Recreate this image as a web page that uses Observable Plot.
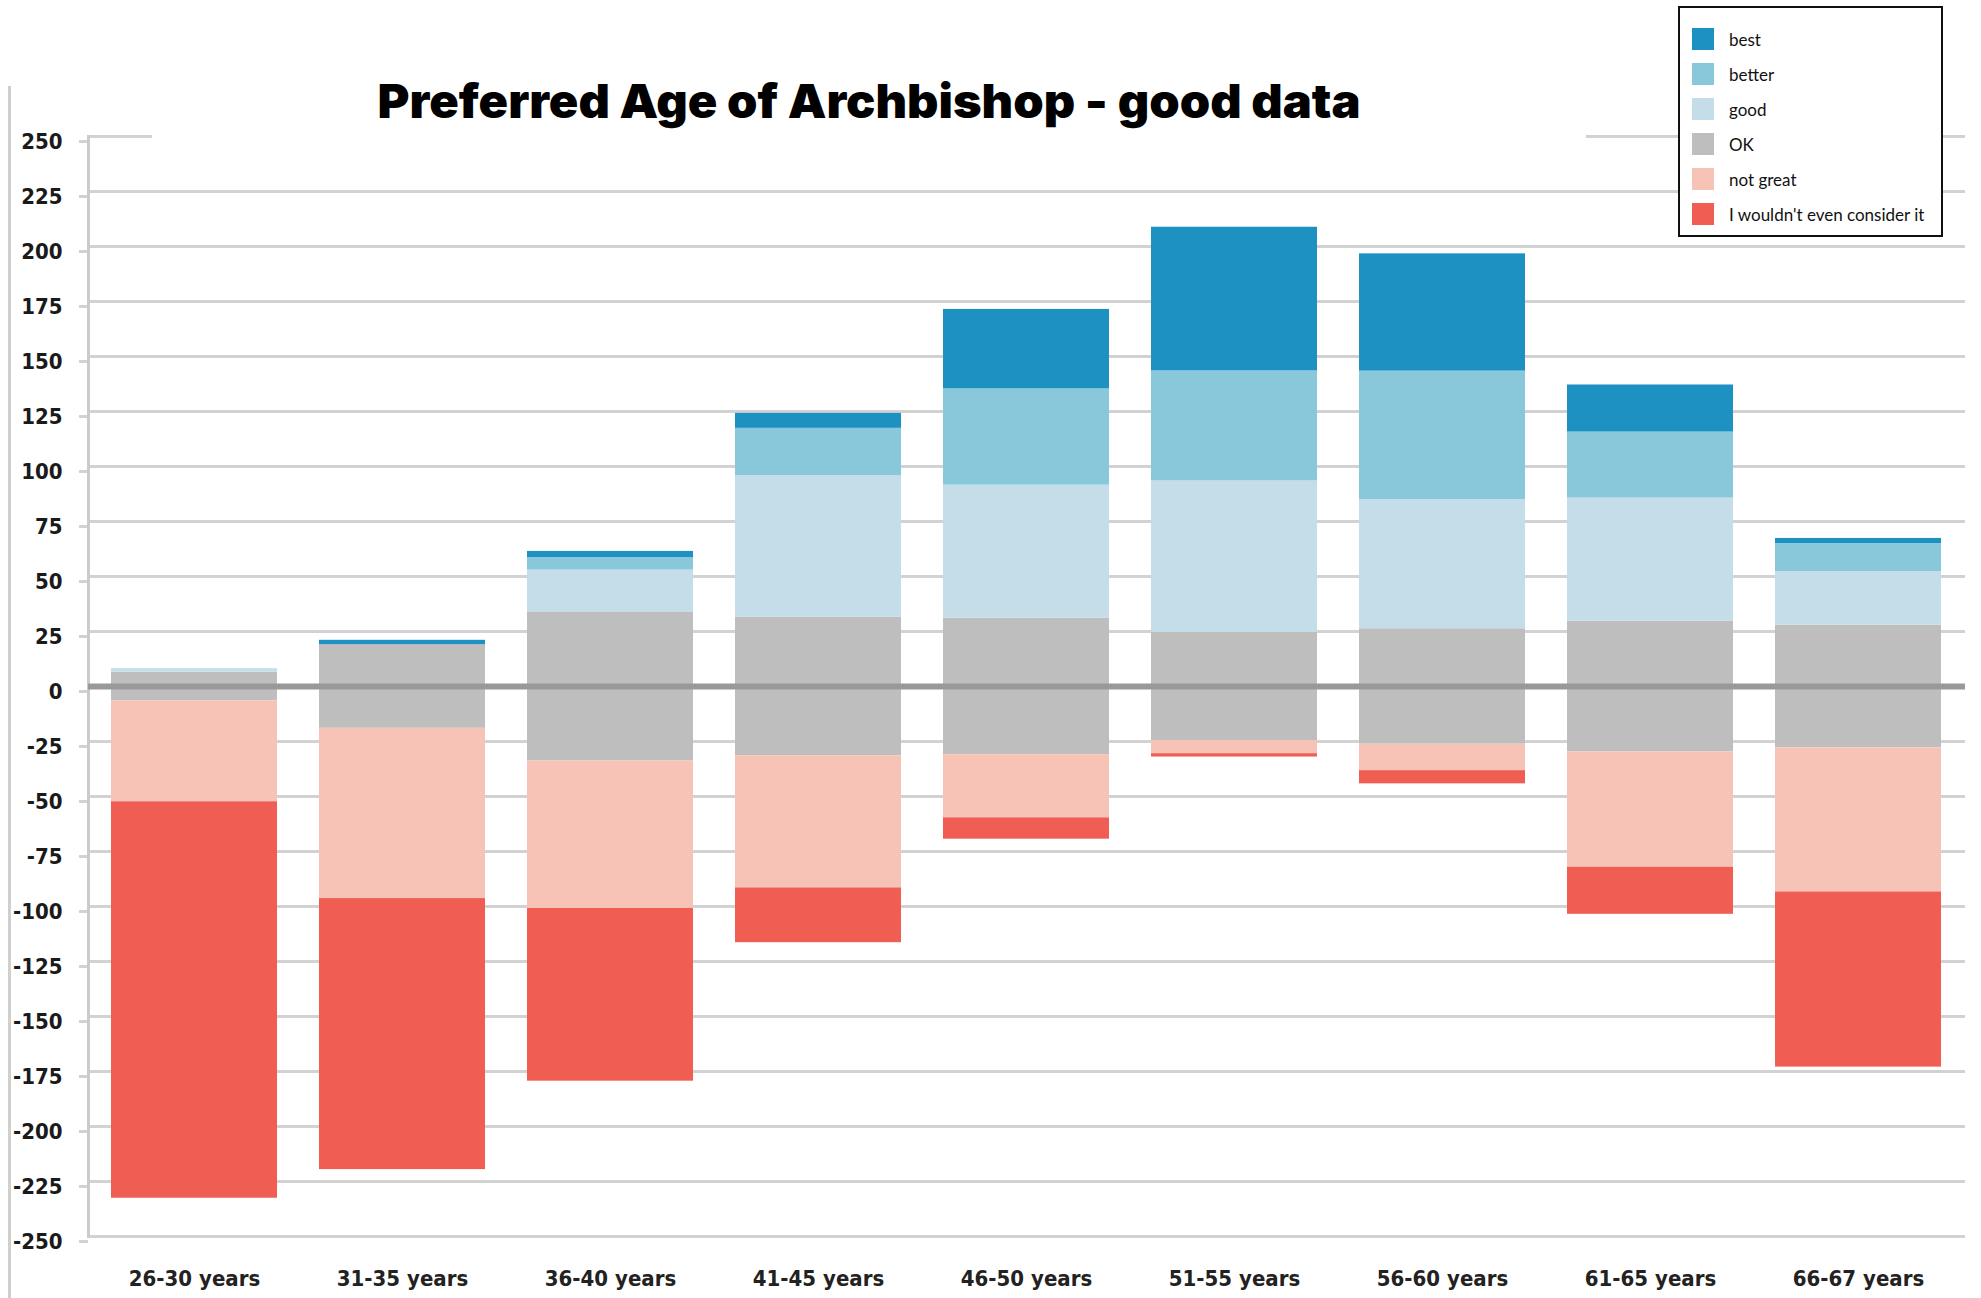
<!DOCTYPE html>
<html><head><meta charset="utf-8">
<script src="https://cdn.jsdelivr.net/npm/d3@7"></script>
<script src="https://cdn.jsdelivr.net/npm/@observablehq/plot@0.6"></script>
<style>
html,body{margin:0;padding:0;background:#fff;}
#wrap{position:relative;width:1981px;height:1298px;overflow:hidden;}
#title{position:absolute;left:152px;top:63px;width:1434px;height:76px;background:#fff;text-align:center;color:#000;white-space:nowrap;}
#title span{display:inline-block;font-family:Inter,Roboto,Lato,sans-serif;font-weight:900;font-size:47px;line-height:76px;transform-origin:50% 50%;}
#legend{position:absolute;left:1678px;top:6px;width:261px;height:227px;border:2px solid #111;background:#fff;font-family:Lato,"Open Sans",sans-serif;font-size:17px;color:#111;}
.item{position:absolute;left:12px;height:22px;display:flex;align-items:center;white-space:nowrap;}
.sw{width:22px;height:22px;margin-right:15px;flex:none;}
#frameL{position:absolute;left:8px;top:86px;width:3px;height:1212px;background:#cfcfcf;}
#plot{position:absolute;left:0;top:0;}
</style></head><body>
<div id="wrap"><div id="frameL"></div><div id="plot"></div><div id="title"><span id="ttext">Preferred Age of Archbishop - good data</span></div><div id="legend"></div></div>
<script>
const ages = ["26-30 years","31-35 years","36-40 years","41-45 years","46-50 years","51-55 years","56-60 years","61-65 years","66-67 years"];
const series = ["best","better","good","OK","not great","I wouldn't even consider it"];
const colors = ["#1e91c3","#89c8da","#c5dde9","#bebebe","#f7c3b7","#f05d52"];
const best     = [0,    2,     2.8,  6.8,  36.1, 65.3, 53.3, 21.4, 2.3];
const better   = [0,    0,     5.7,  21.5, 43.8, 50,   58.4, 30,   12.8];
const good     = [1.6,  0,     19,   64.4, 60.5, 68.9, 58.7, 55.9, 24.3];
const ok       = [13,   38,    67.8, 62.9, 62,   49.1, 52.5, 59.5, 55.8];
const notGreat = [45.9, 77.4,  67,   60.1, 28.7, 6,    12,   52.4, 65.5];
const wouldnt  = [180.2,123.2, 78.5, 24.9, 9.7,  1.5,  6,    21.4, 79.6];
const yTicks = [-250,-225,-200,-175,-150,-125,-100,-75,-50,-25,0,25,50,75,100,125,150,175,200,225,250];

const rows = [];
ages.forEach((a, i) => {
  rows.push({age: a, series: "OK", value: ok[i] / 2});
  rows.push({age: a, series: "OK", value: -ok[i] / 2});
  rows.push({age: a, series: "good", value: good[i]});
  rows.push({age: a, series: "better", value: better[i]});
  rows.push({age: a, series: "best", value: best[i]});
  rows.push({age: a, series: "not great", value: -notGreat[i]});
  rows.push({age: a, series: "I wouldn't even consider it", value: -wouldnt[i]});
});

const plot = Plot.plot({
  width: 1981, height: 1298,
  marginLeft: 88, marginRight: 16, marginTop: 136, marginBottom: 62,
  x: {domain: ages, paddingInner: 0.2, paddingOuter: 0.1, label: null},
  y: {domain: [-250, 250], label: null},
  color: {domain: series, range: colors},
  style: {fontFamily: "'DejaVu Sans Condensed','DejaVu Sans',sans-serif", fontStretch: "condensed", fontSize: "22px", fontWeight: "bold", background: "transparent", overflow: "visible"},
  marks: [
    Plot.gridY(yTicks, {stroke: "#d2d2d2", strokeOpacity: 1, strokeWidth: 3}),
    Plot.axisY(yTicks, {tickSize: 9, tickPadding: 17, stroke: "#d2d2d2", strokeWidth: 3, fill: "#1a1a1a", tickFormat: d => String(d), dy: 5, label: null}),
    Plot.frame({anchor: "left", stroke: "#cbcbcb", strokeWidth: 3}),
    Plot.barY(rows, Plot.stackY({x: "age", y: "value", fill: "series"})),
    Plot.ruleY([0], {stroke: "#999999", strokeWidth: 6}),
    Plot.axisX({tickSize: 0, tickPadding: 34, fill: "#222", label: null})
  ]
});
document.getElementById("plot").appendChild(plot);

// fit title width to the reference's span
const tt = document.getElementById("ttext");
const w = tt.getBoundingClientRect().width;
if (w > 0) tt.style.transform = `scaleX(${983 / w})`;

const legend = document.getElementById("legend");
const centers = [31, 66, 101, 136, 171, 206];
series.forEach((s, i) => {
  const it = document.createElement("div");
  it.className = "item";
  it.style.top = (centers[i] - 11) + "px";
  const sw = document.createElement("div");
  sw.className = "sw";
  sw.style.background = colors[i];
  const tx = document.createElement("span");
  tx.textContent = s;
  it.appendChild(sw); it.appendChild(tx);
  legend.appendChild(it);
});
</script>
</body></html>
